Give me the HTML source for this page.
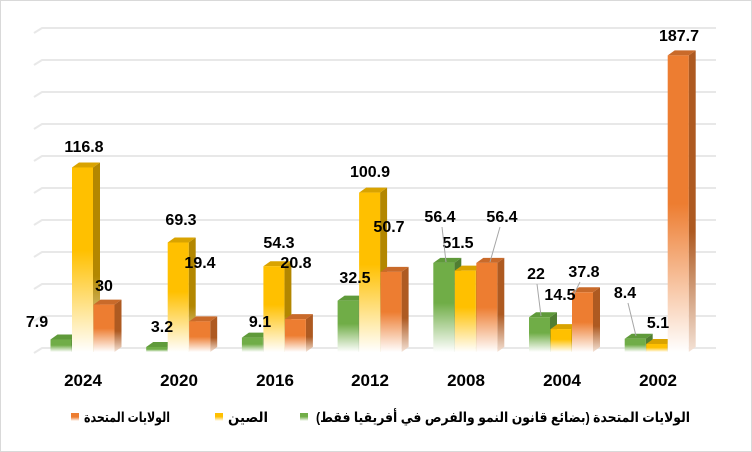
<!DOCTYPE html>
<html><head><meta charset="utf-8"><style>
body{margin:0;background:#fff}
svg{display:block}
text{font-family:"Liberation Sans","DejaVu Sans",sans-serif;font-weight:bold}
</style></head><body>
<svg width="752" height="452" viewBox="0 0 752 452" xmlns="http://www.w3.org/2000/svg">
<defs>
<linearGradient id="gG" x1="0" y1="0" x2="0" y2="1"><stop offset="0" stop-color="#70ad47"/><stop offset="0.45" stop-color="#70ad47"/><stop offset="1" stop-color="#fff"/></linearGradient>
<linearGradient id="gY" x1="0" y1="0" x2="0" y2="1"><stop offset="0" stop-color="#ffc000"/><stop offset="0.45" stop-color="#ffc000"/><stop offset="1" stop-color="#fff"/></linearGradient>
<linearGradient id="gO" x1="0" y1="0" x2="0" y2="1"><stop offset="0" stop-color="#ed7d31"/><stop offset="0.5" stop-color="#ed7d31"/><stop offset="1" stop-color="#fff"/></linearGradient>
<linearGradient id="sG" x1="0" y1="0" x2="0" y2="1"><stop offset="0" stop-color="#507e32"/><stop offset="0.6" stop-color="#507e32"/><stop offset="1" stop-color="#e8eee4"/></linearGradient>
<linearGradient id="sY" x1="0" y1="0" x2="0" y2="1"><stop offset="0" stop-color="#b38700"/><stop offset="0.6" stop-color="#b38700"/><stop offset="1" stop-color="#f4ecd8"/></linearGradient>
<linearGradient id="sO" x1="0" y1="0" x2="0" y2="1"><stop offset="0" stop-color="#ae5a21"/><stop offset="0.6" stop-color="#ae5a21"/><stop offset="1" stop-color="#f4e2d6"/></linearGradient>
</defs>
<rect x="0.5" y="0.5" width="751" height="451" fill="#fff" stroke="#d9d9d9"/>
<g id="grid" stroke="#e8e8e8" stroke-width="2" fill="none"></g>
<g id="bars"></g>
<g id="labels" font-size="16" fill="#000" text-anchor="middle">
<text x="37" y="327">7.9</text><text x="84" y="152">116.8</text><text x="104" y="291">30</text>
<text x="162" y="332">3.2</text><text x="181" y="225">69.3</text><text x="200" y="268">19.4</text>
<text x="260" y="327">9.1</text><text x="279" y="248">54.3</text><text x="296" y="268">20.8</text>
<text x="355" y="283">32.5</text><text x="370" y="177">100.9</text><text x="389" y="232">50.7</text>
<text x="440" y="222">56.4</text><text x="458" y="248">51.5</text><text x="502" y="222">56.4</text>
<text x="536" y="279">22</text><text x="560" y="300">14.5</text><text x="584" y="277">37.8</text>
<text x="625" y="298">8.4</text><text x="658" y="328">5.1</text><text x="679" y="41">187.7</text>
</g>
<g stroke="#a6a6a6" stroke-width="1">
<line x1="442" y1="227" x2="446" y2="262"/><line x1="500" y1="227" x2="490" y2="262"/>
<line x1="537" y1="284" x2="541" y2="316"/><line x1="580" y1="282" x2="574" y2="294"/>
<line x1="628" y1="303" x2="636" y2="336"/>
</g>
<g font-size="17" fill="#000" text-anchor="middle">
<text x="83" y="386">2024</text><text x="179" y="386">2020</text><text x="275" y="386">2016</text>
<text x="370" y="386">2012</text><text x="466" y="386">2008</text><text x="562" y="386">2004</text><text x="658" y="386">2002</text>
</g>
<rect x="71" y="413" width="8" height="8" fill="url(#gO)"/>
<text x="84" y="422" font-size="14" textLength="86" lengthAdjust="spacingAndGlyphs" direction="rtl" unicode-bidi="embed" text-anchor="end">الولايات المتحدة</text>
<rect x="215" y="413" width="8" height="8" fill="url(#gY)"/>
<text x="228" y="422" font-size="14" textLength="40" lengthAdjust="spacingAndGlyphs" direction="rtl" unicode-bidi="embed" text-anchor="end">الصين</text>
<rect x="300" y="413" width="8" height="8" fill="url(#gG)"/>
<text x="316" y="422" font-size="14" textLength="374" lengthAdjust="spacingAndGlyphs" direction="rtl" unicode-bidi="embed" text-anchor="end">الولايات المتحدة (بضائع قانون النمو والفرص في أفريقيا فقط)</text>
</svg>
<script>
var ns="http://www.w3.org/2000/svg";
var g=document.getElementById("grid");
for(var i=0;i<11;i++){var y=350-32*i;var p=document.createElementNS(ns,"path");p.setAttribute("d","M34 "+(y+3)+" L42 "+(y-2)+" L716 "+(y-2));g.appendChild(p);}
var data=[[7.9,116.8,30],[3.2,69.3,19.4],[9.1,54.3,20.8],[32.5,100.9,50.7],[56.4,51.5,56.4],[22,14.5,37.8],[8.4,5.1,187.7]];
var cols=[["gG","sG","#5f9a3a"],["gY","sY","#d9a300"],["gO","sO","#c96a2a"]];
var b=document.getElementById("bars");var base=352,w=21,dx=7,dy=5,k=1.58;
function poly(pts,fill){var p=document.createElementNS(ns,"polygon");p.setAttribute("points",pts);p.setAttribute("fill",fill);b.appendChild(p);}
data.forEach(function(d,gi){var yl=72+gi*95.7;
 d.forEach(function(v,j){var x=yl+(j-1)*21.5;var h=v*k;var t=base-h;
  poly((x+w)+","+t+" "+(x+w+dx)+","+(t-dy)+" "+(x+w+dx)+","+(base-dy)+" "+(x+w)+","+base,"url(#"+cols[j][1]+")");
  poly(x+","+t+" "+(x+dx)+","+(t-dy)+" "+(x+w+dx)+","+(t-dy)+" "+(x+w)+","+t,cols[j][2]);
  var r=document.createElementNS(ns,"rect");r.setAttribute("x",x);r.setAttribute("y",t);r.setAttribute("width",w);r.setAttribute("height",h);r.setAttribute("fill","url(#"+cols[j][0]+")");b.appendChild(r);
 });});
</script>
</body></html>
